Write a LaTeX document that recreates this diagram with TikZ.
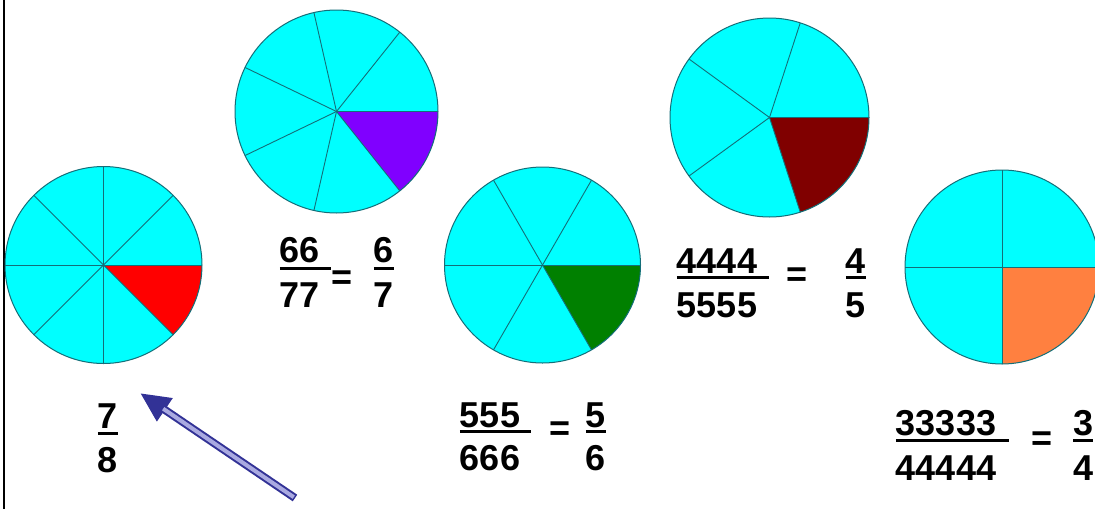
\documentclass[tikz,border=0pt]{standalone}
\usepackage{fontspec}
\setmainfont{Liberation Sans}
\usetikzlibrary{arrows.meta}
\definecolor{piecyan}{RGB}{0,255,255}
\definecolor{pieline}{RGB}{20,110,120}
\definecolor{sred}{RGB}{255,0,0}
\definecolor{spurple}{RGB}{128,0,255}
\definecolor{sgreen}{RGB}{0,128,0}
\definecolor{sdarkred}{RGB}{128,0,0}
\definecolor{sorange}{RGB}{255,128,64}
\definecolor{arrowdark}{RGB}{50,50,150}
\definecolor{arrowlight}{RGB}{170,170,225}
\newcommand{\piechart}[5]{%
  \fill[piecyan] (#1,-#2) circle[radius=#3];
  \fill[#5] (#1,-#2) -- ++(0:#3) arc[start angle=0,end angle=-360/#4,radius=#3] -- cycle;
  \foreach \k in {1,...,#4} \draw[pieline, line width=0.9pt] (#1,-#2) -- ++({\k*360/#4}:#3);
  \draw[pieline, line width=1pt] (#1,-#2) circle[radius=#3];
}
\begin{document}
\begin{tikzpicture}[x=1pt,y=1pt,
  frac/.style={font=\fontsize{36}{40}\selectfont\bfseries, inner sep=0pt, outer sep=0pt},
  eq/.style={font=\fontsize{36}{40}\selectfont\bfseries, inner sep=0pt, outer sep=0pt},
  bar/.style={line width=3pt}]
\useasboundingbox (0,0) rectangle (1095,-509);
\clip (0,0) rectangle (1095,-509);
\fill[white] (0,0) rectangle (1095,-509);
\draw[line width=2.5pt] (4,0) -- (4,-509);

\piechart{103.5}{265}{98.5}{8}{sred}
\piechart{336.5}{111.5}{101.5}{7}{spurple}
\piechart{542.5}{265}{98}{6}{sgreen}
\piechart{769.5}{117.5}{99.5}{5}{sdarkred}
\piechart{1002}{267}{97}{4}{sorange}

% 7/8
\node[frac, anchor=base] (n7) at (108,-428) {7};
\node[frac, anchor=base] (d8) at (108,-472) {8};
\draw[bar] ([shift={(0,-5)}]n7.base west) -- ([shift={(0,-5)}]n7.base east);

% 66/77 = 6/7
\node[frac, anchor=base] (n66) at (300,-262) {66};
\node[frac, anchor=base] (d77) at (300,-307) {77};
\draw[bar] ([shift={(0,-6)}]n66.base west) -- ([shift={(11,-6)}]n66.base east);
\node[eq] (e1) at (342,-280) {=};
\node[frac, anchor=base] (n6) at (384,-262) {6};
\node[frac, anchor=base] (d7) at (384,-307) {7};
\draw[bar] ([shift={(0,-6)}]n6.base west) -- ([shift={(0,-6)}]n6.base east);

% 555/666 = 5/6
\node[frac, anchor=base] (n555) at (490,-427) {555};
\node[frac, anchor=base] (d666) at (490,-470) {666};
\draw[bar] ([shift={(0,-4.5)}]n555.base west) -- ([shift={(11,-4.5)}]n555.base east);
\node[eq] (e2) at (560,-431) {=};
\node[frac, anchor=base] (n5) at (596,-427) {5};
\node[frac, anchor=base] (d6) at (596,-470) {6};
\draw[bar] ([shift={(0,-4.5)}]n5.base west) -- ([shift={(0,-4.5)}]n5.base east);

% 4444/5555 = 4/5
\node[frac, anchor=base] (n4444) at (717,-273) {4444};
\node[frac, anchor=base] (d5555) at (717,-317) {5555};
\draw[bar] ([shift={(0,-4.5)}]n4444.base west) -- ([shift={(12,-4.5)}]n4444.base east);
\node[eq] (e3) at (797,-277) {=};
\node[frac, anchor=base] (n4) at (856,-273) {4};
\node[frac, anchor=base] (d5) at (856,-317) {5};
\draw[bar] ([shift={(0,-4.5)}]n4.base west) -- ([shift={(0,-4.5)}]n4.base east);

% 33333/44444 = 3/4
\node[frac, anchor=base] (n33333) at (946,-435) {33333};
\node[frac, anchor=base] (d44444) at (946,-480) {44444};
\draw[bar] ([shift={(0,-5)}]n33333.base west) -- ([shift={(13,-5)}]n33333.base east);
\node[eq] (e4) at (1042,-441) {=};
\node[frac, anchor=base west] (n3) at (1073,-435) {3};
\node[frac, anchor=base west] (d4) at (1073,-480) {4};
\draw[bar] ([shift={(0,-5)}]n3.base west) -- ([shift={(0,-5)}]n3.base east);

% arrow
\coordinate (atail) at (295,-498);
\coordinate (atip) at (140,-393);
\draw[arrowdark, line width=8pt, -{Triangle[length=30pt,width=26pt]}] (atail) -- (atip);
\draw[arrowlight, line width=4pt, shorten >=28pt, shorten <=1.5pt] (atail) -- (atip);
\end{tikzpicture}
\end{document}
